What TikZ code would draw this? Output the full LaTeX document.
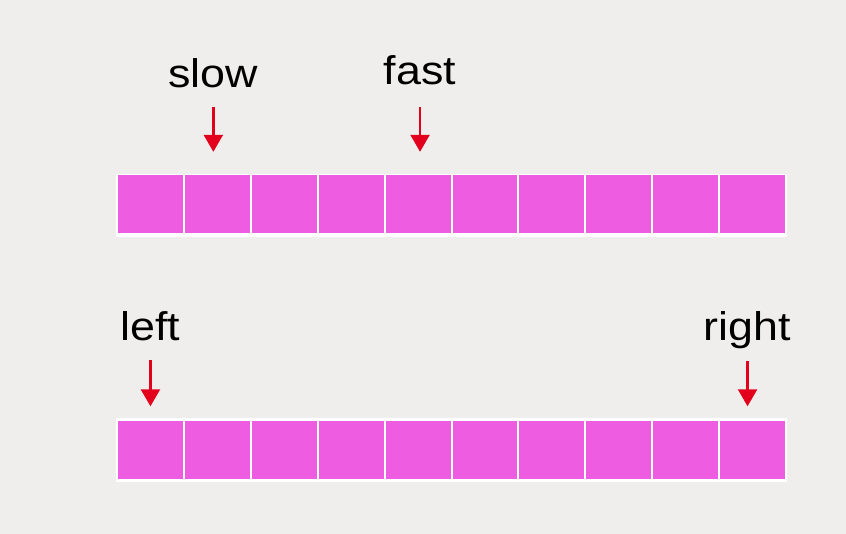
\documentclass[tikz,border=0pt]{standalone}
\usepackage{fontspec}
\setmainfont[FakeStretch=1.12]{Liberation Sans}
\usetikzlibrary{arrows.meta}

\definecolor{paper}{RGB}{239,238,236}
\definecolor{cellpink}{RGB}{238,92,226}
\definecolor{ptrred}{RGB}{226,0,28}

\tikzset{
    cell/.style={fill=cellpink, minimum width=64.9pt, minimum height=58pt, inner sep=0pt},
    lbl/.style={font=\fontsize{40}{48}\selectfont, inner sep=0pt, anchor=base},
    ptr/.style={ptrred, line width=2.4pt, -{Triangle[width=19pt,length=17pt]}}
}

\begin{document}
\begin{tikzpicture}[x=1pt, y=-1pt]

    % Paper background, fixes the size
    \useasboundingbox (0,0) rectangle (846,534);
    \fill[paper] (0,0) rectangle (846,534);

    % Top array (slow / fast)
    \fill[white] (116,174) rectangle (787,237);
    \foreach \i in {1,...,10}
        \node[cell] (a\i) at ({117+66.9*(\i-0.5)}, 204) {};

    % Bottom array (left / right)
    \fill[white] (116,418) rectangle (787,482);
    \foreach \i in {1,...,10}
        \node[cell] (b\i) at ({117+66.9*(\i-0.5)}, 449.5) {};

    % Pointer labels
    \path (a2.north) ++(-4,-87) node[lbl] (slow) {slow};
    \path (a5.north) ++(2,-90) node[lbl] (fast) {fast};
    \path (b1.north) ++(0,-80) node[lbl] (left) {left};
    \path (b10.north) ++(-5,-80) node[lbl] (right) {right};

    % Pointer arrows
    \draw[ptr, shorten >=23pt] ([yshift=-19pt]slow.base) -- (slow.base |- a2.north);
    \draw[ptr, shorten >=23pt] ([yshift=-22pt]fast.base) -- (fast.base |- a5.north);
    \draw[ptr, shorten >=14pt] ([yshift=-20pt]left.base) -- (left.base |- b1.north);
    \draw[ptr, shorten >=14pt] ([yshift=-21pt]right.base) -- (right.base |- b10.north);

\end{tikzpicture}
\end{document}
